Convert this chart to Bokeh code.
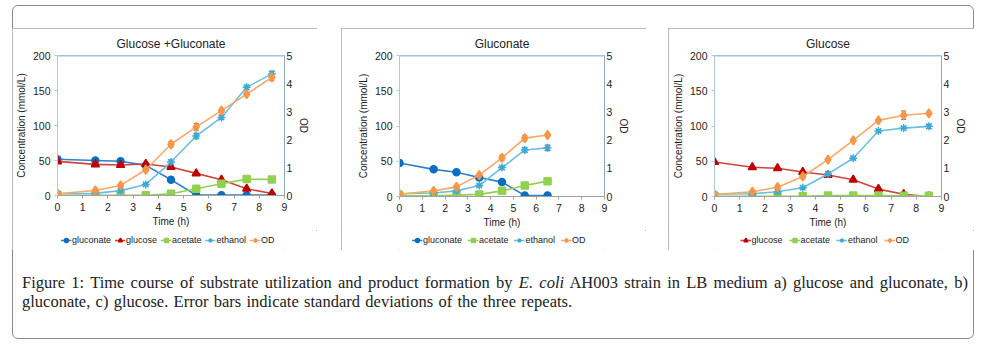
from bokeh.plotting import figure
from bokeh.models import (Range1d, LinearAxis, Legend, LegendItem, Whisker, TeeHead,
                          ColumnDataSource, Span, Div, Spacer, FixedTicker)
from bokeh.layouts import row, column
from bokeh.embed import file_html
from bokeh.resources import INLINE

# ---------------- data ----------------
time_a = [0, 1.5, 2.5, 3.5, 4.5, 5.5, 6.5, 7.5, 8.5]
gluconate_a = [51.7, 50.0, 49.0, 43.0, 22.5, 0.5, 0.5, 0.5, 0.5]
glucose_a = [48.8, 44.5, 43.5, 45.0, 40.7, 31.6, 22.5, 9.6, 2.9]
acetate_a = [0.3, 0.3, 0.3, 0.3, 2.4, 9.6, 16.7, 23.4, 23.0]
ethanol_a = [2.9, 3.0, 7.0, 15.8, 47.8, 85.0, 111.5, 154.5, 173.7]
od_a = [0.06, 0.18, 0.36, 0.92, 1.83, 2.45, 3.03, 3.62, 4.22]
ethanol_err_a = [1, 1, 1, 1.5, 3, 4, 3, 3, 4]
od_err_a = [0.02, 0.02, 0.03, 0.05, 0.1, 0.12, 0.06, 0.06, 0.12]

time_b = [0, 1.5, 2.5, 3.5, 4.5, 5.5, 6.5]
gluconate_b = [47.4, 38.5, 34.5, 27.0, 20.4, 1.5, 1.4]
acetate_b = [1.0, 1.0, 2.0, 3.0, 8.0, 15.6, 21.8]
ethanol_b = [4.0, 5.0, 8.0, 15.6, 41.0, 66.0, 69.0]
od_b = [0.08, 0.2, 0.34, 0.76, 1.37, 2.07, 2.18]
ethanol_err_b = [1, 1, 1, 1, 2, 3, 4]
od_err_b = [0.02, 0.02, 0.03, 0.05, 0.1, 0.1, 0.05]

time_c = [0, 1.5, 2.5, 3.5, 4.5, 5.5, 6.5, 7.5, 8.5]
glucose_c = [49.0, 41.4, 40.0, 34.8, 30.5, 23.8, 10.5, 3.3, 0.0]
acetate_c = [0.3, 0.3, 0.3, 0.3, 1.4, 1.4, 1.4, 1.0, 1.0]
ethanol_c = [3.3, 3.8, 6.7, 12.4, 32.0, 54.3, 92.9, 97.0, 99.5]
od_c = [0.07, 0.17, 0.33, 0.71, 1.31, 1.99, 2.70, 2.88, 2.95]
ethanol_err_c = [1, 1, 1, 1, 2, 2, 2, 2, 3]
od_err_c = [0.02, 0.02, 0.03, 0.03, 0.03, 0.03, 0.04, 0.15, 0.04]

x_ticks = [0, 1, 2, 3, 4, 5, 6, 7, 8, 9]
y_ticks = [0, 50, 100, 150, 200]
od_ticks = [0, 1, 2, 3, 4, 5]

FONT = "Liberation Sans"
STYLE = {
    "gluconate": dict(color="#0A6FC2", line="#2F80C8", marker="circle", size=7),
    "glucose": dict(color="#C00000", line="#D0443F", marker="triangle", size=8),
    "acetate": dict(color="#92D050", line="#92D050", marker="square", size=7),
    "ethanol": dict(color="#3FA9D6", line="#6BC0E0", marker="asterisk", size=8),
    "OD": dict(color="#F79646", line="#F9A86A", marker="diamond", size=9),
}


def add_series(p, name, t, vals, visible=True):
    st = STYLE[name]
    kw = {"y_range_name": "od"} if (name == "OD" and visible) else {}
    src = ColumnDataSource(dict(x=t, y=vals))
    r1 = p.line("x", "y", source=src, line_color=st["line"], line_width=1.6, visible=visible, **kw)
    r2 = p.scatter("x", "y", source=src, marker=st["marker"], size=st["size"],
                   fill_color=st["color"], line_color=st["color"], line_width=1.5,
                   visible=visible, **kw)
    return r1, r2


def add_err(p, t, vals, err, **kw):
    es = ColumnDataSource(dict(x=t, lo=[v - e for v, e in zip(vals, err)],
                               hi=[v + e for v, e in zip(vals, err)]))
    p.add_layout(Whisker(base="x", lower="lo", upper="hi", source=es, line_color="#666666",
                         upper_head=TeeHead(size=5, line_color="#666666"),
                         lower_head=TeeHead(size=5, line_color="#666666"), **kw))


def make_panel(title, t, series, eth_err, od_err, width, left, right, bottom, leg_spacing):
    p = figure(width=width, height=202, output_backend="svg", toolbar_location=None,
               x_range=Range1d(0, 9), y_range=Range1d(0, 200),
               min_border_left=left, min_border_right=right,
               min_border_top=27, min_border_bottom=bottom, title=title)
    p.extra_y_ranges = {"od": Range1d(0, 5)}
    p.outline_line_color = None
    p.xgrid.grid_line_color = None
    p.ygrid.grid_line_color = None
    p.background_fill_color = "white"
    p.border_fill_color = "white"

    p.title.align = "center"
    p.title.text_font = FONT
    p.title.text_font_style = "normal"
    p.title.text_font_size = "12px"
    p.title.text_color = "#222222"
    p.title.standoff = 10

    xa = p.xaxis[0]
    xa.ticker = FixedTicker(ticks=x_ticks)
    xa.axis_label = "Time (h)"
    ya = p.yaxis[0]
    ya.ticker = FixedTicker(ticks=y_ticks)
    ya.axis_label = "Concentration (mmol/L)"
    ra = LinearAxis(y_range_name="od", ticker=FixedTicker(ticks=od_ticks), axis_label="OD")
    p.add_layout(ra, "right")
    for ax, col in ((xa, "#a0a0a0"), (ya, "#b4c6da"), (ra, "#8fa7c1")):
        ax.axis_line_color = col
        ax.major_tick_line_color = col
        ax.minor_tick_line_color = None
        ax.major_tick_out = 3
        ax.major_tick_in = 0
        ax.major_label_text_font = FONT
        ax.major_label_text_font_size = "10.5px"
        ax.major_label_text_color = "#222222"
        ax.axis_label_text_font = FONT
        ax.axis_label_text_font_size = "10px"
        ax.axis_label_text_font_style = "normal"
        ax.axis_label_text_color = "#222222"
        ax.axis_label_standoff = 3
        ax.major_label_standoff = 4
    xa.axis_label_standoff = 2
    ra.major_label_standoff = 2
    ra.major_tick_out = 0

    p.add_layout(Span(location=200, dimension="width", line_color="#4a7ebb", line_width=1.5))

    for name, vals in series:
        add_series(p, name, t, vals)
        if name == "ethanol":
            add_err(p, t, vals, eth_err)
        if name == "OD":
            add_err(p, t, vals, od_err, y_range_name="od")

    # legend strip below the chart: hidden copies of the series supply the legend glyphs
    lg = figure(width=width, height=20, output_backend="svg", toolbar_location=None,
                x_range=Range1d(0, 9), y_range=Range1d(0, 200),
                x_axis_location=None, y_axis_location=None,
                min_border=0, min_border_left=0, min_border_right=0,
                min_border_top=0, min_border_bottom=0)
    lg.grid.visible = False
    lg.outline_line_color = None
    lg.background_fill_color = "white"
    lg.border_fill_color = "white"
    items = []
    for name, vals in series:
        r1, r2 = add_series(lg, name, t, vals, visible=False)
        items.append(LegendItem(label=name, renderers=[r1, r2]))
    leg = Legend(items=items, orientation="horizontal", location="center",
                 label_text_font=FONT, label_text_font_size="9px", label_text_color="#222222",
                 glyph_width=11, glyph_height=10, label_standoff=1, spacing=leg_spacing,
                 padding=0, margin=0, border_line_color=None, background_fill_alpha=0,
                 inactive_fill_alpha=0, label_height=10)
    lg.add_layout(leg)

    return column(p, lg, width=width, height=222,
                  styles={"outline": "1px solid #a6a6a6", "outline-offset": "-1px"})


p1 = make_panel("Glucose +Gluconate", time_a,
                [("gluconate", gluconate_a), ("glucose", glucose_a), ("acetate", acetate_a),
                 ("ethanol", ethanol_a), ("OD", od_a)],
                ethanol_err_a, od_err_a, 305, 45, 33, 35, 3)
p2 = make_panel("Gluconate", time_b,
                [("gluconate", gluconate_b), ("acetate", acetate_b),
                 ("ethanol", ethanol_b), ("OD", od_b)],
                ethanol_err_b, od_err_b, 305, 58, 42, 33, 5)
p3 = make_panel("Glucose", time_c,
                [("glucose", glucose_c), ("acetate", acetate_c),
                 ("ethanol", ethanol_c), ("OD", od_c)],
                ethanol_err_c, od_err_c, 306, 46, 33, 34, 6)

caption_html = (
    '<div style="font-family:\'Liberation Serif\',serif;font-size:16.5px;line-height:19px;'
    'color:#222;padding:18px 0 0 5px;width:946px;">'
    '<div style="text-align:justify;text-align-last:justify;white-space:nowrap;width:946px;">Figure 1: Time course of substrate utilization and '
    'product formation by <i>E. coli</i> AH003 strain in LB medium a) glucose and gluconate, b)</div>'
    '<div style="word-spacing:1.2px;">gluconate, c) glucose. Error bars indicate standard deviations of the three repeats.</div>'
    '</div>'
)
caption = Div(text=caption_html, width=962, height=89)

fig_row = row(p1, Spacer(width=24, height=222), p2, Spacer(width=22, height=222), p3)
box = column(Spacer(width=962, height=23), fig_row, caption, width=962, height=334,
             styles={"outline": "1px solid #8a8a8a", "outline-offset": "-1px", "border-radius": "6px"})
page = column(Spacer(width=986, height=5), row(Spacer(width=12, height=334), box))

open("out.html", "w").write(file_html(page, INLINE))
